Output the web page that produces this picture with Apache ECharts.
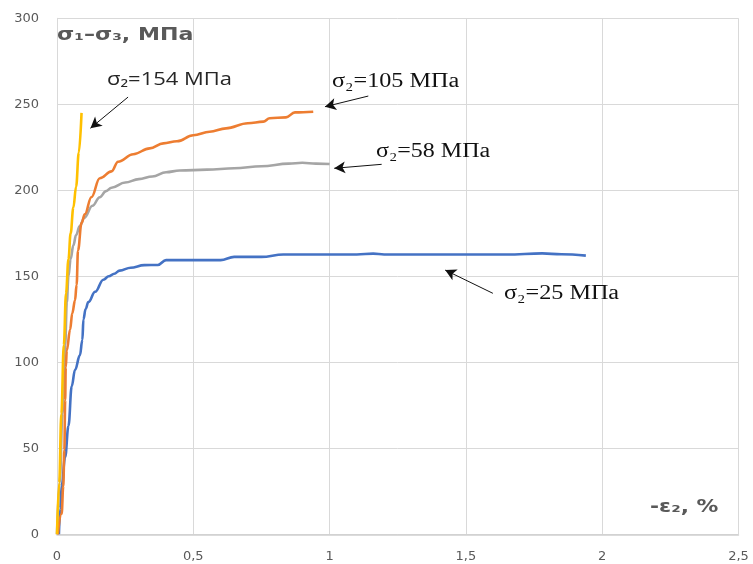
<!DOCTYPE html>
<html>
<head>
<meta charset="utf-8">
<script src="https://cdn.jsdelivr.net/npm/echarts@6/dist/echarts.min.js"></script>
<style>html,body{margin:0;padding:0;background:#fff}#c{width:753px;height:564px}</style>
</head>
<body>
<div id="c"></div>
<script>
// σ2 = 25 MPa (blue)
const s25 = [[0.007,0],[0.012,15],[0.017,28],[0.03,45],[0.042,63],[0.054,86],[0.066,95.5],[0.084,104],[0.093,113],[0.097,125],[0.105,131],[0.115,135],[0.14,141],[0.17,148],[0.19,150],[0.21,151.5],[0.23,153.3],[0.27,155],[0.32,156.5],[0.37,156.6],[0.40,159.4],[0.5,159.4],[0.6,159.4],[0.65,161.3],[0.75,161.3],[0.83,162.7],[1.1,162.7],[1.16,163.2],[1.2,162.7],[1.65,162.7],[1.78,163.3],[1.85,162.8],[1.94,162]];
// σ2 = 58 MPa (gray)
const s58 = [[0,0],[0.01,30],[0.02,70],[0.03,110],[0.036,135],[0.042,150],[0.05,160],[0.06,168],[0.07,174],[0.083,179],[0.1,184],[0.13,191],[0.157,196],[0.18,199.5],[0.2,201.5],[0.25,204.5],[0.3,206.5],[0.35,208],[0.4,210.5],[0.45,211.5],[0.55,212],[0.65,212.8],[0.75,214],[0.85,215.5],[0.9,216],[0.95,215.5],[1.0,215.3]];
// σ2 = 105 MPa (orange)
const s105 = [[0.003,0],[0.017,12],[0.023,28],[0.027,49],[0.03,78],[0.032,97],[0.036,107],[0.048,119],[0.056,128.5],[0.066,136],[0.072,145],[0.077,165],[0.09,181],[0.102,186],[0.126,196],[0.157,207],[0.2,211],[0.224,216.6],[0.28,221],[0.34,224.4],[0.39,227.3],[0.44,228.5],[0.5,232],[0.56,234],[0.62,236],[0.7,239],[0.757,239.9],[0.78,241.9],[0.84,242.4],[0.873,245.3],[0.94,245.7]];
// σ2 = 154 MPa (yellow)
const s154 = [[0,0],[0.008,30],[0.016,70],[0.025,110],[0.033,140],[0.042,160],[0.05,175],[0.06,190],[0.07,202],[0.08,222],[0.09,245]];

const xTicks = [0, 0.5, 1, 1.5, 2, 2.5];
const yTicks = [0, 50, 100, 150, 200, 250, 300];

const chart = echarts.init(document.getElementById('c'), null, {renderer: 'canvas'});
function line(name, data, color) {
  return {
    name, type: 'line', data, showSymbol: false, smooth: 0.4, smoothMonotone: 'x',
    lineStyle: {color, width: 2.6}, itemStyle: {color}, silent: true, z: 3
  };
}
function arrow(from, to) {
  return [{coord: from}, {coord: to}];
}
function txt(text, x, y, font, size, weight, color, sx) {
  return {type: 'text', x, y, scaleX: sx, silent: true, z: 10,
    style: {text, fill: color, fontSize: size, fontWeight: weight, fontFamily: font,
      align: 'left', verticalAlign: 'middle', textAlign: 'left', textVerticalAlign: 'middle'}};
}
const labelFont = 'DejaVu Sans';
const serif = 'Liberation Serif, DejaVu Serif';
chart.setOption({
  animation: false,
  grid: {left: 57, right: 14.5, top: 18.3, bottom: 29.7, containLabel: false},
  xAxis: {
    type: 'value', min: xTicks[0], max: xTicks[xTicks.length-1], interval: 0.5,
    axisLine: {show: true, lineStyle: {color: '#d0d0d0', width: 1.5}},
    axisTick: {show: false},
    axisLabel: {color: '#595959', fontSize: 13, fontFamily: labelFont, margin: 16,
      formatter: v => String(v).replace('.', ',')},
    splitLine: {show: true, lineStyle: {color: '#d9d9d9', width: 1}}
  },
  yAxis: {
    type: 'value', min: yTicks[0], max: yTicks[yTicks.length-1], interval: 50,
    axisLine: {show: true, lineStyle: {color: '#d9d9d9', width: 1}},
    axisTick: {show: false},
    axisLabel: {color: '#595959', fontSize: 13, fontFamily: labelFont, margin: 18},
    splitLine: {show: true, lineStyle: {color: '#d9d9d9', width: 1}}
  },
  series: [
    line('σ2=25 МПа', s25, '#4472c4'),
    line('σ2=58 МПа', s58, '#a5a5a5'),
    line('σ2=105 МПа', s105, '#ed7d31'),
    line('σ2=154 МПа', s154, '#ffc000'),
    {
      type: 'scatter', data: [], silent: true,
      markLine: {
        silent: true, animation: false,
        symbol: ['none', 'arrow'], symbolSize: [9, 11],
        label: {show: false},
        lineStyle: {color: '#111', width: 1, type: 'solid'},
        emphasis: {disabled: true},
        data: [
          arrow([0.2607, 254.2], [0.1227, 236.1]),
          arrow([1.142, 254.8], [0.983, 248.6]),
          arrow([1.191, 215.1], [1.017, 212.8]),
          arrow([1.599, 140.1], [1.424, 153.6])
        ]
      }
    }
  ],
  graphic: [
    txt('σ₁–σ₃, МПа', 57, 36, 'DejaVu Sans', 17, 'bold', '#595959', 1.3),
    txt('-ε₂, %', 650, 508, 'DejaVu Sans', 17, 'bold', '#595959', 1.28),
    txt('σ₂=154 МПа', 107, 80, 'Open Sans', 18, 'normal', '#262626', 1.22),
    txt('σ₂=105 МПа', 332, 82, serif, 20, 'normal', '#111', 1.21),
    txt('σ₂=58 МПа', 376, 152, serif, 20, 'normal', '#111', 1.2),
    txt('σ₂=25 МПа', 504, 293.5, serif, 20, 'normal', '#111', 1.21)
  ]
});
</script>
</body>
</html>
